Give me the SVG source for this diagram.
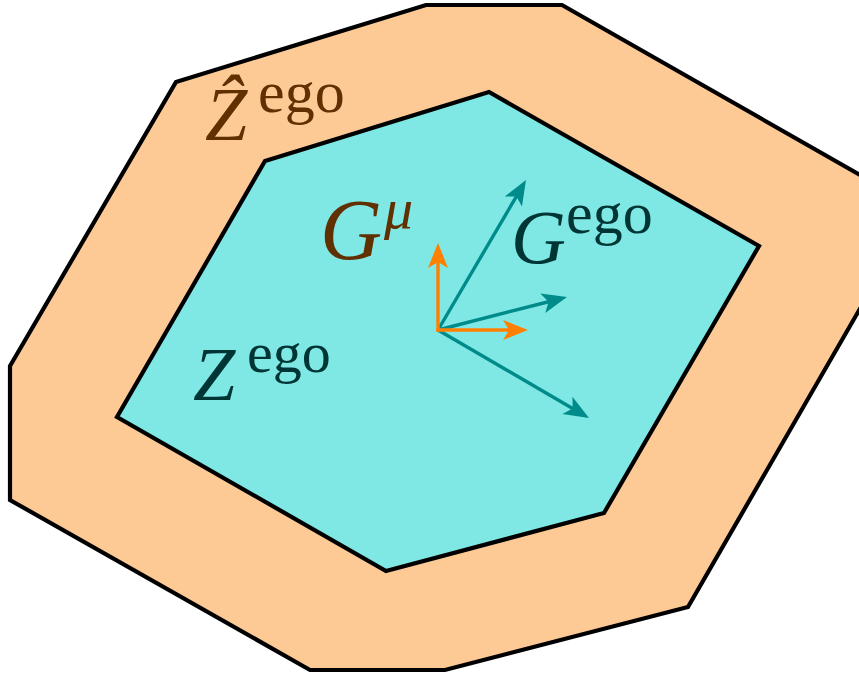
<svg xmlns="http://www.w3.org/2000/svg" width="859" height="674" viewBox="0 0 859 674">
<style>
.poly{stroke:#000;stroke-width:4.2;stroke-linejoin:miter}
.teal{stroke:#008b8b;stroke-width:3.4;fill:none}
.orange{stroke:#ff8000;stroke-width:3.4;fill:none}
.it{font-style:italic}
.brown{fill:#603000}
.dark{fill:#003535}
</style>
<defs>
<marker id="ahTeal" markerUnits="userSpaceOnUse" markerWidth="40" markerHeight="40" refX="0" refY="0" orient="auto" overflow="visible">
<path d="M16,0 L-9,-10 L-3,0 L-9,10 Z" fill="#008b8b"/>
</marker>
<marker id="ahOrange" markerUnits="userSpaceOnUse" markerWidth="40" markerHeight="40" refX="0" refY="0" orient="auto" overflow="visible">
<path d="M16,0 L-9,-10 L-3,0 L-9,10 Z" fill="#ff8000"/>
</marker>
</defs>
<rect width="859" height="674" fill="#fff"/>
<g id="outer">
<polygon class="poly" fill="#fdca96" points="176,82 426,5 562,5 918,208 688,607 445,670 310,670 10,500 10,366"/>
</g>
<g id="inner">
<polygon class="poly" fill="#7fe8e5" points="265,161 489,92 759,246 604,513 386,571 117,417"/>
</g>
<g id="connectors">
<line class="teal" x1="438" y1="330" x2="517.9" y2="193.8" marker-end="url(#ahTeal)"/>
<line class="teal" x1="438" y1="330" x2="551.5" y2="301" marker-end="url(#ahTeal)"/>
<line class="teal" x1="438" y1="330" x2="575.2" y2="410" marker-end="url(#ahTeal)"/>
<line class="orange" x1="438" y1="331.7" x2="438" y2="259" marker-end="url(#ahOrange)"/>
<line class="orange" x1="436.3" y1="330" x2="512" y2="330" marker-end="url(#ahOrange)"/>
</g>
<g id="label-zhat" font-family="'Liberation Serif', 'Times New Roman', serif">
<text class="brown" x="205" y="140" font-family="'Liberation Serif', serif"><tspan class="it" font-size="76">Ẑ</tspan><tspan font-size="60" x="258" y="112">ego</tspan></text>
</g>
<g id="label-gmu" font-family="'Liberation Serif', 'Times New Roman', serif">
<text class="brown" x="320" y="259" font-family="'Liberation Serif', serif"><tspan class="it" font-size="86">G</tspan><tspan class="it" font-size="58" x="384" y="228">μ</tspan></text>
</g>
<g id="label-gego" font-family="'Liberation Serif', 'Times New Roman', serif">
<text class="dark" x="511" y="263" font-family="'Liberation Serif', serif"><tspan class="it" font-size="76">G</tspan><tspan font-size="60" x="566" y="233">ego</tspan></text>
</g>
<g id="label-zego" font-family="'Liberation Serif', 'Times New Roman', serif">
<text class="dark" x="193" y="400" font-family="'Liberation Serif', serif"><tspan class="it" font-size="76">Z</tspan><tspan font-size="58" x="247" y="372">ego</tspan></text>
</g>
</svg>
